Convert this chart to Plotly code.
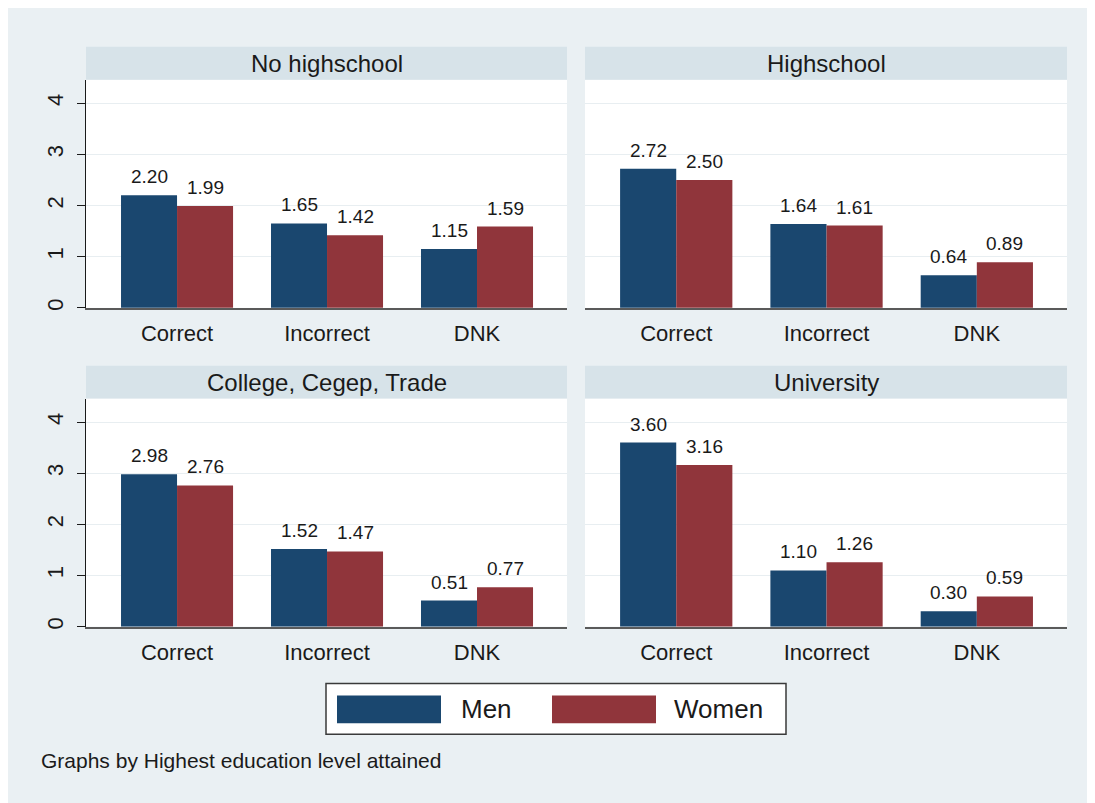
import plotly.graph_objects as go

# ---------------- data ----------------
categories = ["Correct", "Incorrect", "DNK"]
panel_titles = ["No highschool", "Highschool", "College, Cegep, Trade", "University"]
series_names = ["Men", "Women"]

men_no_highschool = [2.20, 1.65, 1.15]
women_no_highschool = [1.99, 1.42, 1.59]
men_highschool = [2.72, 1.64, 0.64]
women_highschool = [2.50, 1.61, 0.89]
men_college = [2.98, 1.52, 0.51]
women_college = [2.76, 1.47, 0.77]
men_university = [3.60, 1.10, 0.30]
women_university = [3.16, 1.26, 0.59]

y_ticks = [0, 1, 2, 3, 4]
note_text = "Graphs by Highest education level attained"

# ---------------- style ----------------
W, H = 1095, 803
OFF = 8  # page body margin offset
FONT = "Liberation Sans, Arial, sans-serif"
NAVY = "#1A476F"
MAROON = "#90353B"
OUTER_BG = "#EAF0F3"
STRIP_BG = "#D7E3E9"
GRID = "#E8EEF1"
TEXT = "#1A1A1A"

def fx(px):
    return (px - OFF) / W

def fy(py):
    return 1 - (py - OFF) / H

# panel pixel boxes (screen coordinates)
cols = [(86, 567), (585, 1067)]
rows = [(80, 309), (400, 629)]
strip_h = 33

panels = [
    (men_no_highschool, women_no_highschool),
    (men_highschool, women_highschool),
    (men_college, women_college),
    (men_university, women_university),
]

fig = go.Figure()
layout = dict(
    width=W, height=H,
    margin=dict(l=0, r=0, t=0, b=0),
    paper_bgcolor=OUTER_BG,
    plot_bgcolor="white",
    barmode="group",
    bargap=0.253,
    bargroupgap=0,
    showlegend=False,
    font=dict(family=FONT, color=TEXT),
)

shapes = []
annotations = []

for i, (men_vals, women_vals) in enumerate(panels):
    r, c = divmod(i, 2)
    x0, x1 = cols[c]
    yt, yb = rows[r]
    ax = "" if i == 0 else str(i + 1)
    xa, ya = "x" + ax, "y" + ax

    fig.add_trace(go.Bar(x=categories, y=men_vals, name=series_names[0],
                         marker=dict(color=NAVY, line=dict(width=0)),
                         xaxis=xa, yaxis=ya, hoverinfo="skip"))
    fig.add_trace(go.Bar(x=categories, y=women_vals, name=series_names[1],
                         marker=dict(color=MAROON, line=dict(width=0)),
                         xaxis=xa, yaxis=ya, hoverinfo="skip"))

    layout["xaxis" + ax] = dict(
        domain=[fx(x0), fx(x1)], anchor=ya,
        range=[-0.607, 2.6], type="category",
        showline=True, linecolor="#5A5A5A", linewidth=1.5,
        ticks="", showgrid=False, zeroline=False,
        tickfont=dict(size=22, family=FONT, color=TEXT),
        ticklabelstandoff=5,
        fixedrange=True,
    )
    layout["yaxis" + ax] = dict(
        domain=[fy(yb), fy(yt)], anchor=xa,
        range=[0, 4.46], tickvals=y_ticks,
        showgrid=True, gridcolor=GRID, gridwidth=1,
        zeroline=False,
        showline=(c == 0), linecolor="#1A1A1A", linewidth=1,
        ticks="outside" if c == 0 else "", ticklen=8, tickcolor="#1A1A1A",
        showticklabels=(c == 0), tickangle=-90,
        tickfont=dict(size=22, family=FONT, color=TEXT),
        ticklabelstandoff=5,
        fixedrange=True,
    )

    # strip
    shapes.append(dict(type="rect", xref="paper", yref="paper", layer="below",
                       x0=fx(x0), x1=fx(x1), y0=fy(yt), y1=fy(yt - strip_h),
                       fillcolor=STRIP_BG, line=dict(width=0)))
    annotations.append(dict(xref="paper", yref="paper",
                            x=fx((x0 + x1) / 2), y=fy(yt - strip_h / 2),
                            text=panel_titles[i], showarrow=False,
                            xanchor="center", yanchor="middle",
                            font=dict(size=24, family=FONT, color=TEXT)))

    # value labels
    for cat, mv, wv in zip(categories, men_vals, women_vals):
        for v, sh in ((mv, -28), (wv, 28)):
            annotations.append(dict(xref=xa, yref=ya, x=cat, y=v,
                                    text=f"{v:.2f}", showarrow=False,
                                    xanchor="center", yanchor="bottom",
                                    xshift=sh, yshift=6,
                                    font=dict(size=19, family=FONT, color=TEXT)))

# legend box
shapes.append(dict(type="rect", xref="paper", yref="paper",
                   x0=fx(326), x1=fx(786), y0=fy(737), y1=fy(686),
                   fillcolor="white", line=dict(color="#3A3A3A", width=1.5)))
legend_items = [(series_names[0], NAVY, 337, 441, 459),
                (series_names[1], MAROON, 552, 656, 672)]
for name, col, sx0, sx1, tx in legend_items:
    shapes.append(dict(type="rect", xref="paper", yref="paper",
                       x0=fx(sx0), x1=fx(sx1), y0=fy(726), y1=fy(698),
                       fillcolor=col, line=dict(width=0)))
    annotations.append(dict(xref="paper", yref="paper", x=fx(tx), y=fy(712),
                            text=name, showarrow=False,
                            xanchor="left", yanchor="middle",
                            font=dict(size=26, family=FONT, color=TEXT)))

# note
annotations.append(dict(xref="paper", yref="paper", x=fx(39), y=fy(763),
                        text=note_text, showarrow=False,
                        xanchor="left", yanchor="middle",
                        font=dict(size=21, family=FONT, color=TEXT)))

layout["shapes"] = shapes
layout["annotations"] = annotations
fig.update_layout(**layout)

fig.write_html("out.html")
